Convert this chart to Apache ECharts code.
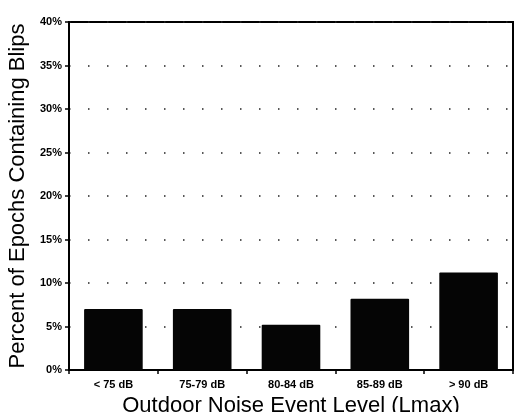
<!DOCTYPE html>
<html>
<head>
<meta charset="utf-8">
<script src="https://cdn.jsdelivr.net/npm/echarts@6/dist/echarts.min.js"></script>
<style>
html,body{margin:0;padding:0;background:#fff;}
#chart{width:514px;height:412px;}
</style>
</head>
<body>
<div id="chart"></div>
<script>
var categories = ['< 75 dB', '75-79 dB', '80-84 dB', '85-89 dB', '> 90 dB'];
var values = [7.0, 7.0, 5.2, 8.2, 11.2];
var yTicks = [0, 5, 10, 15, 20, 25, 30, 35, 40];

var chart = echarts.init(document.getElementById('chart'), null, {renderer: 'canvas'});
var font = 'Liberation Sans, Arial, Helvetica, sans-serif';
chart.setOption({
  animation: false,
  backgroundColor: '#fff',
  grid: {
    left: 69, right: 1, top: 22, bottom: 42,
    containLabel: false,
    outerBoundsMode: 'none',
    show: true, borderColor: '#000', borderWidth: 2, backgroundColor: 'transparent'
  },
  xAxis: {
    type: 'category',
    data: categories,
    name: 'Outdoor Noise Event Level (Lmax)',
    nameLocation: 'middle',
    nameGap: 19,
    nameTextStyle: {fontFamily: font, fontSize: 22, color: '#000'},
    axisLine: {show: true, lineStyle: {color: '#000', width: 2}},
    axisTick: {show: true, length: 4, lineStyle: {color: '#000', width: 1.5}, alignWithLabel: false},
    axisLabel: {fontFamily: font, fontSize: 11, fontWeight: 'bold', color: '#000', margin: 9},
    splitLine: {show: false}
  },
  yAxis: {
    type: 'value',
    min: 0, max: 40, interval: 5,
    name: 'Percent of Epochs Containing Blips',
    nameLocation: 'middle',
    nameGap: 40,
    nameTextStyle: {fontFamily: font, fontSize: 22, color: '#000'},
    axisLine: {show: true, lineStyle: {color: '#000', width: 2}},
    axisTick: {show: true, length: 4, lineStyle: {color: '#000', width: 1.5}},
    axisLabel: {
      fontFamily: font, fontSize: 11, fontWeight: 'bold', color: '#000', margin: 7,
      formatter: function (v) { return yTicks.indexOf(v) >= 0 ? v + '%' : ''; }
    },
    splitLine: {show: true, lineStyle: {color: '#222', width: 1.5, type: [1.5, 17.5]}}
  },
  series: [{
    type: 'bar',
    data: values,
    barCategoryGap: '34%',
    itemStyle: {color: '#050505', borderRadius: 1}
  }]
});
</script>
</body>
</html>
